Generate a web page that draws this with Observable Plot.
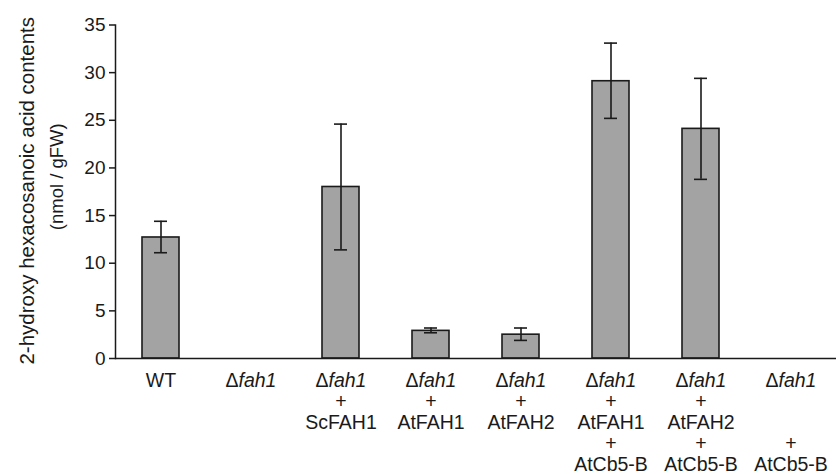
<!DOCTYPE html>
<html>
<head>
<meta charset="utf-8">
<script src="https://cdn.jsdelivr.net/npm/d3@7"></script>
<script src="https://cdn.jsdelivr.net/npm/@observablehq/plot@0.6"></script>
<style>
  html, body { margin: 0; padding: 0; background: #fff; }
  #chart { width: 836px; height: 474px; }
</style>
</head>
<body>
<div id="chart"></div>
<script>
// ---- data ----
const categories = ["WT", "fah1", "fah1+ScFAH1", "fah1+AtFAH1", "fah1+AtFAH2", "fah1+AtFAH1+AtCb5-B", "fah1+AtFAH2+AtCb5-B", "fah1+AtCb5-B"];
const means   = [12.7, null, 18.0, 2.9, 2.5, 29.1, 24.1, null];
const errLow  = [11.1, null, 11.4, 2.7, 1.9, 25.2, 18.8, null];
const errHigh = [14.4, null, 24.6, 3.2, 3.2, 33.1, 29.4, null];
const yTicks = [0, 5, 10, 15, 20, 25, 30, 35];

// label lines below each bar
const labelRow1 = ["WT", "", "", "", "", "", "", ""];       // plain first-line labels
const hasFah1   = [false, true, true, true, true, true, true, true];
const labelRow2 = ["", "", "+", "+", "+", "+", "+", ""];
const labelRow3 = ["", "", "ScFAH1", "AtFAH1", "AtFAH2", "AtFAH1", "AtFAH2", ""];
const labelRow4 = ["", "", "", "", "", "+", "+", "+"];
const labelRow5 = ["", "", "", "", "", "AtCb5-B", "AtCb5-B", "AtCb5-B"];
const yTitle1 = "2-hydroxy hexacosanoic acid contents";
const yTitle2 = "(nmol / gFW)";

const data = categories.map((c, i) => ({cat: c, mean: means[i], lo: errLow[i], hi: errHigh[i]}));
const bars = data.filter(d => d.mean != null);
const rowData = (arr) => categories.map((c, i) => ({cat: c, t: arr[i]})).filter(d => d.t !== "");
const fahData = categories.filter((c, i) => hasFah1[i]).map(c => ({cat: c}));

const ink = "#1a1a1a";
const rows = [22, 43, 64, 85, 106];
const fs = 19.5;

const chart = Plot.plot({
  width: 836,
  height: 474,
  marginLeft: 115,
  marginRight: 0,
  marginTop: 24.5,
  marginBottom: 116,
  style: {fontFamily: "'Liberation Sans', Arial, sans-serif", fontSize: "19px", color: ink, background: "#fff", overflow: "visible"},
  x: {domain: categories, paddingInner: 0.591, paddingOuter: 0.279, axis: null},
  y: {domain: [0, 35], axis: null},
  marks: [
    Plot.frame({anchor: "left", stroke: ink, strokeWidth: 1.5}),
    Plot.axisY({ticks: yTicks, tickSize: 6, tickPadding: 4, stroke: ink, strokeWidth: 1.5, fill: ink, label: null, fontSize: 19}),
    Plot.barY(bars, {x: "cat", y: "mean", fill: "#a3a3a3", stroke: ink, strokeWidth: 1.6}),
    Plot.ruleX(bars, {x: "cat", y1: "lo", y2: "hi", stroke: ink, strokeWidth: 1.6}),
    Plot.tickY(bars, {x: "cat", y: "hi", stroke: ink, strokeWidth: 1.6, insetLeft: 12, insetRight: 12}),
    Plot.tickY(bars, {x: "cat", y: "lo", stroke: ink, strokeWidth: 1.6, insetLeft: 12, insetRight: 12}),
    Plot.ruleY([0], {stroke: ink, strokeWidth: 1.6}),
    // x labels
    Plot.text(rowData(labelRow1), {x: "cat", text: "t", frameAnchor: "bottom", dy: rows[0], lineAnchor: "middle", fontSize: fs, fill: ink}),
    Plot.text(fahData, {x: "cat", text: () => "\u0394", frameAnchor: "bottom", dy: rows[0], dx: -12.5, textAnchor: "end", lineAnchor: "middle", fontSize: fs, fill: ink}),
    Plot.text(fahData, {x: "cat", text: () => "fah1", frameAnchor: "bottom", dy: rows[0], dx: -12.5, textAnchor: "start", lineAnchor: "middle", fontSize: fs, fontStyle: "italic", fill: ink}),
    Plot.text(rowData(labelRow2), {x: "cat", text: "t", frameAnchor: "bottom", dy: rows[1], lineAnchor: "middle", fontSize: fs, fill: ink}),
    Plot.text(rowData(labelRow3), {x: "cat", text: "t", frameAnchor: "bottom", dy: rows[2], lineAnchor: "middle", fontSize: fs, fill: ink}),
    Plot.text(rowData(labelRow4), {x: "cat", text: "t", frameAnchor: "bottom", dy: rows[3], lineAnchor: "middle", fontSize: fs, fill: ink}),
    Plot.text(rowData(labelRow5), {x: "cat", text: "t", frameAnchor: "bottom", dy: rows[4], lineAnchor: "middle", fontSize: fs, fill: ink}),
    // y title (two lines)
    Plot.text([yTitle1], {text: d => d, frameAnchor: "left", rotate: -90, dx: -88, dy: -1, textAnchor: "middle", lineAnchor: "middle", fontSize: 20.5, fill: ink}),
    Plot.text([yTitle2], {text: d => d, frameAnchor: "left", rotate: -90, dx: -58, dy: -15, textAnchor: "middle", lineAnchor: "middle", fontSize: 18.5, fill: ink})
  ]
});
document.getElementById("chart").appendChild(chart);
</script>
</body>
</html>
